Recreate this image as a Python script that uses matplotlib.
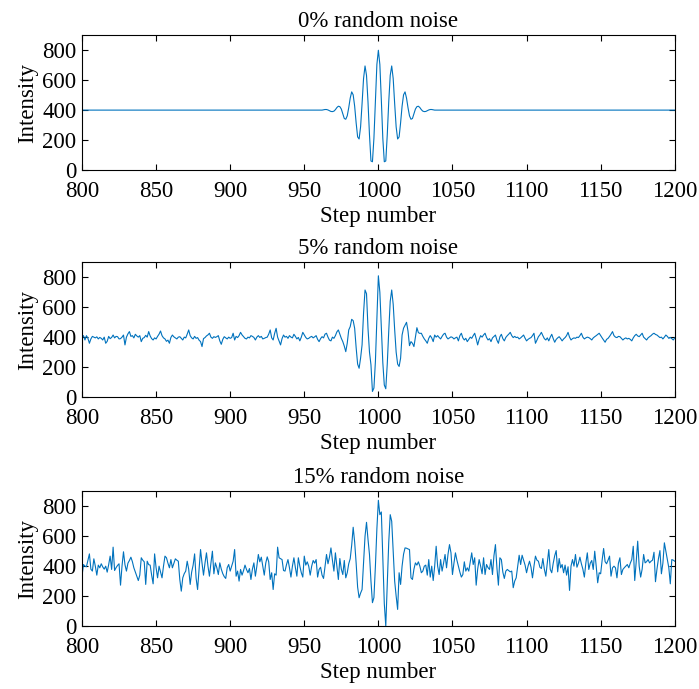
import matplotlib
matplotlib.use('Agg')
import matplotlib.pyplot as plt

LINE_COLOR = '#0072BD'
FONT_SIZE = 16.5

steps = list(range(800, 1201))
titles = ['0% random noise', '5% random noise', '15% random noise']

# clean signal: flat 400 with a wave packet between 962 and 1038
baseline = 400
clean_core = [400, 402, 404, 404, 401, 396, 391, 390, 393, 403,
              417, 426, 423, 407, 375, 344, 339, 362, 416, 480,
              522, 502, 426, 315, 221, 207, 288, 443, 611, 695,
              632, 455, 235, 60, 55, 212, 468, 705,
              800,
              705, 468, 212, 55, 60, 235, 455, 632, 695, 611,
              443, 288, 207, 221, 315, 426, 502, 522, 480, 416,
              362, 339, 344, 375, 407, 423, 426, 417, 403, 393,
              390, 391, 396, 401, 404, 404, 402, 400]
clean = [baseline] * 162 + clean_core + [baseline] * 162

noise5 = [395, 410, 381, 410, 392, 359, 388, 405, 400, 395,
          402, 388, 398, 392, 381, 400, 359, 372, 405, 390,
          398, 414, 395, 405, 403, 388, 390, 400, 414, 348,
          400, 422, 437, 405, 410, 395, 419, 408, 400, 410,
          370, 392, 397, 412, 400, 437, 408, 390, 381, 395,
          388, 405, 420, 441, 410, 395, 388, 372, 380, 359,
          398, 414, 402, 395, 388, 400, 403, 392, 381, 400,
          395, 420, 448, 410, 395, 388, 405, 392, 397, 380,
          370, 337, 390, 397, 408, 415, 426, 400, 392, 403,
          398, 403, 410, 375, 352, 385, 403, 395, 388, 400,
          392, 397, 426, 381, 405, 397, 410, 432, 415, 403,
          392, 388, 400, 395, 410, 405, 398, 381, 400, 410,
          398, 405, 388, 392, 397, 400, 420, 448, 395, 381,
          425, 459, 400, 375, 348, 390, 414, 400, 405, 392,
          410, 400, 395, 419, 405, 388, 398, 375, 400, 432,
          415, 398, 388, 392, 400, 405, 395, 402, 410, 385,
          370, 390, 403, 395, 420, 426, 400, 380, 375, 400,
          392, 410, 435, 448, 420, 392, 370, 340, 303, 360,
          448, 470, 519, 510, 459, 330, 220, 192, 260, 348,
          560, 715, 690, 459, 300, 215, 37, 60, 237, 520,
          810, 700, 470, 230, 80, 55, 220, 440, 640, 715,
          620, 450, 300, 220, 204, 259, 414, 460, 480, 499,
          440, 343, 370, 359, 337, 400, 463, 430, 425, 426,
          405, 388, 375, 359, 392, 410, 395, 370, 414, 400,
          410, 398, 388, 405, 420, 426, 400, 388, 395, 402,
          398, 388, 395, 400, 375, 410, 426, 395, 381, 392,
          370, 385, 400, 392, 410, 426, 390, 348, 385, 410,
          400, 415, 426, 398, 381, 390, 370, 395, 405, 414,
          380, 359, 402, 419, 390, 375, 398, 410, 420, 432,
          410, 397, 405, 397, 400, 388, 395, 405, 414, 393,
          375, 385, 392, 397, 410, 426, 359, 380, 403, 415,
          432, 410, 390, 381, 395, 375, 400, 419, 390, 366,
          385, 395, 403, 390, 375, 388, 397, 410, 432, 400,
          381, 390, 395, 392, 400, 397, 410, 426, 400, 388,
          395, 400, 397, 390, 381, 395, 403, 410, 418, 426,
          410, 395, 380, 366, 385, 392, 405, 420, 437, 410,
          400, 397, 405, 403, 392, 381, 390, 395, 388, 392,
          385, 375, 395, 410, 419, 408, 403, 415, 426, 400,
          390, 381, 395, 403, 410, 420, 426, 418, 414, 405,
          397, 400, 388, 400, 414, 405, 392, 398, 390, 381,
          395]

noise15 = [333, 411, 400, 396, 440, 482, 380, 367, 449, 400,
           340, 407, 389, 416, 395, 380, 400, 360, 410, 467,
           378, 527, 371, 390, 405, 416, 273, 400, 496, 410,
           367, 420, 438, 460, 430, 389, 360, 333, 304, 340,
           456, 440, 429, 278, 433, 410, 407, 340, 282, 482,
           390, 322, 400, 360, 322, 400, 467, 456, 420, 389,
           444, 389, 420, 449, 440, 433, 311, 233, 322, 350,
           367, 433, 380, 278, 360, 407, 482, 320, 244, 380,
           511, 420, 340, 420, 489, 400, 333, 420, 500, 349,
           422, 389, 344, 422, 380, 350, 330, 318, 390, 411,
           367, 400, 433, 511, 333, 367, 300, 378, 340, 370,
           407, 378, 356, 384, 311, 380, 422, 333, 400, 478,
           429, 460, 400, 340, 420, 462, 429, 311, 356, 244,
           349, 340, 527, 456, 450, 444, 371, 367, 410, 444,
           389, 327, 400, 456, 390, 333, 456, 400, 356, 327,
           467, 407, 429, 400, 340, 400, 438, 420, 444, 327,
           378, 393, 340, 318, 400, 478, 416, 460, 522, 440,
           367, 489, 400, 311, 451, 380, 344, 438, 322, 356,
           416, 450, 540, 660, 560, 420, 260, 189, 220, 244,
           420, 600, 693, 580, 478, 300, 156, 190, 400, 650,
           840, 744, 762, 450, 150, 0, 280, 560, 744, 700,
           500, 300, 200, 111, 356, 278, 400, 480, 522, 520,
           515, 511, 322, 311, 380, 422, 407, 429, 400, 356,
           367, 400, 407, 340, 444, 327, 400, 304, 400, 533,
           400, 344, 444, 367, 420, 478, 389, 480, 544, 489,
           344, 420, 489, 440, 400, 360, 327, 344, 429, 367,
           389, 367, 430, 489, 411, 456, 273, 380, 444, 400,
           349, 456, 344, 411, 390, 378, 444, 344, 470, 544,
           389, 273, 456, 444, 360, 318, 367, 378, 370, 362,
           367, 256, 300, 322, 400, 473, 411, 473, 440, 407,
           356, 400, 433, 393, 322, 400, 467, 440, 433, 393,
           384, 451, 380, 333, 422, 511, 378, 356, 420, 470,
           504, 362, 451, 389, 411, 356, 407, 340, 396, 238,
           400, 444, 400, 478, 393, 420, 460, 416, 380, 327,
           420, 489, 378, 420, 438, 378, 500, 400, 289, 356,
           349, 440, 518, 430, 416, 440, 467, 333, 389, 400,
           389, 322, 420, 456, 344, 378, 390, 400, 411, 389,
           420, 444, 533, 304, 430, 567, 400, 327, 380, 478,
           422, 430, 444, 422, 433, 440, 493, 296, 380, 450,
           504, 349, 420, 556, 500, 440, 389, 282, 444, 440,
           433]

x_ticks = [800, 850, 900, 950, 1000, 1050, 1100, 1150, 1200]
y_ticks = [0, 200, 400, 600, 800]

plt.rcParams['font.family'] = ['Liberation Serif', 'DejaVu Serif']
plt.rcParams['font.size'] = FONT_SIZE

fig = plt.figure(figsize=(6.99, 6.89), dpi=100)
bottoms = [0.7533, 0.4238, 0.0914]
series = [clean, noise5, noise15]

for title, bottom, values in zip(titles, bottoms, series):
    ax = fig.add_axes([0.1173, bottom, 0.848, 0.1955])
    ax.plot(steps, values, color=LINE_COLOR, linewidth=0.8)
    ax.set_xlim(800, 1200)
    ax.set_ylim(0, 900)
    ax.set_xticks(x_ticks)
    ax.set_yticks(y_ticks)
    ax.tick_params(direction='in', top=True, right=True, length=4,
                   width=0.8, labelsize=FONT_SIZE)
    ax.tick_params(axis='x', pad=8)
    ax.tick_params(axis='y', pad=4)
    for spine in ax.spines.values():
        spine.set_linewidth(0.8)
    ax.set_title(title, fontsize=FONT_SIZE, pad=6)
    ax.set_xlabel('Step number', fontsize=FONT_SIZE, labelpad=3)
    ax.set_ylabel('Intensity', fontsize=FONT_SIZE, labelpad=3)

fig.savefig('out.png', dpi=100)
